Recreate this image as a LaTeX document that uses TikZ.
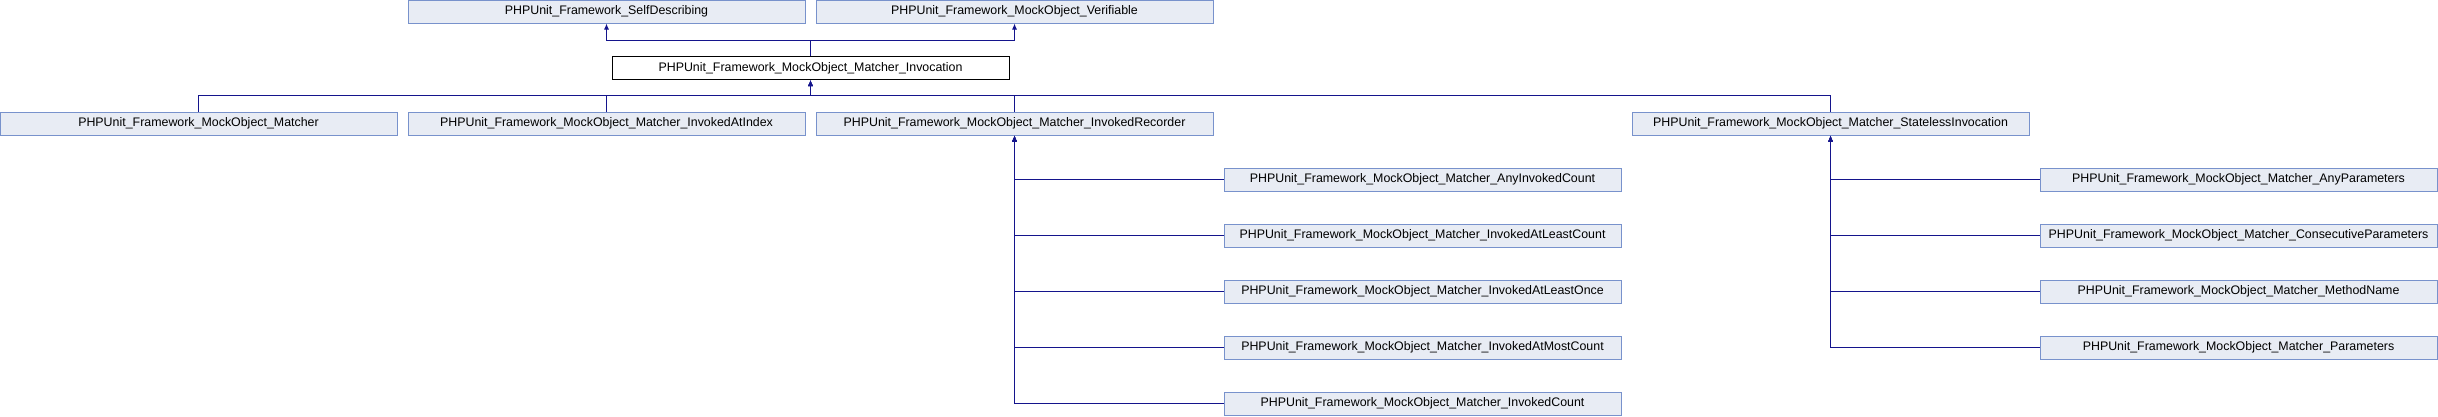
\documentclass[tikz,border=0pt]{standalone}
\usepackage{fontspec}
\setmainfont{Liberation Sans}
\usetikzlibrary{arrows.meta}
\definecolor{lien}{RGB}{20,20,140}
\definecolor{fond}{RGB}{232,236,244}
\definecolor{bord}{RGB}{120,146,204}
\tikzset{
  classe/.style={draw=bord, fill=fond, line width=1pt, minimum width=397pt,
    minimum height=23pt, inner sep=0pt, font=\fontsize{12.4}{14}\selectfont},
  herite/.style={draw=lien, line width=1pt, -{Latex[length=6pt,width=5pt]}}
}
\begin{document}
\begin{tikzpicture}[x=1pt, y=-1pt]
            \useasboundingbox (0,0) rectangle (2438,416);
            % Interfaces
            \node[classe] (selfdesc) at (606.5,11.5) {PHPUnit\_Framework\_SelfDescribing};
            \node[classe] (verif) at (1014.5,11.5) {PHPUnit\_Framework\_MockObject\_Verifiable};
            % Classe courante
            \node[classe, draw=black, fill=white] (invoc) at (810.5,68) {PHPUnit\_Framework\_MockObject\_Matcher\_Invocation};
            % Classes filles
            \node[classe] (matcher) at (198.5,123.5) {PHPUnit\_Framework\_MockObject\_Matcher};
            \node[classe] (atindex) at (606.5,123.5) {PHPUnit\_Framework\_MockObject\_Matcher\_InvokedAtIndex};
            \node[classe] (recorder) at (1014.5,123.5) {PHPUnit\_Framework\_MockObject\_Matcher\_InvokedRecorder};
            \node[classe] (stateless) at (1830.5,123.5) {PHPUnit\_Framework\_MockObject\_Matcher\_StatelessInvocation};
            % Sous-classes de InvokedRecorder
            \node[classe] (anycount) at (1422.5,179.5) {PHPUnit\_Framework\_MockObject\_Matcher\_AnyInvokedCount};
            \node[classe] (leastcount) at (1422.5,235.5) {PHPUnit\_Framework\_MockObject\_Matcher\_InvokedAtLeastCount};
            \node[classe] (leastonce) at (1422.5,291.5) {PHPUnit\_Framework\_MockObject\_Matcher\_InvokedAtLeastOnce};
            \node[classe] (mostcount) at (1422.5,347.5) {PHPUnit\_Framework\_MockObject\_Matcher\_InvokedAtMostCount};
            \node[classe] (count) at (1422.5,403.5) {PHPUnit\_Framework\_MockObject\_Matcher\_InvokedCount};
            % Sous-classes de StatelessInvocation
            \node[classe] (anyparams) at (2238.5,179.5) {PHPUnit\_Framework\_MockObject\_Matcher\_AnyParameters};
            \node[classe] (consec) at (2238.5,235.5) {PHPUnit\_Framework\_MockObject\_Matcher\_ConsecutiveParameters};
            \node[classe] (method) at (2238.5,291.5) {PHPUnit\_Framework\_MockObject\_Matcher\_MethodName};
            \node[classe] (params) at (2238.5,347.5) {PHPUnit\_Framework\_MockObject\_Matcher\_Parameters};
            % Heritage
            \draw[herite] (invoc.north) -- ++(0,-16) -| (selfdesc.south);
            \draw[herite] (invoc.north) -- ++(0,-16) -| (verif.south);
            \draw[herite] (matcher.north) -- ++(0,-16) -| (invoc.south);
            \draw[herite] (atindex.north) -- ++(0,-16) -| (invoc.south);
            \draw[herite] (recorder.north) -- ++(0,-16) -| (invoc.south);
            \draw[herite] (stateless.north) -- ++(0,-16) -| (invoc.south);
            \draw[herite] (anycount.west) -| (recorder.south);
            \draw[herite] (leastcount.west) -| (recorder.south);
            \draw[herite] (leastonce.west) -| (recorder.south);
            \draw[herite] (mostcount.west) -| (recorder.south);
            \draw[herite] (count.west) -| (recorder.south);
            \draw[herite] (anyparams.west) -| (stateless.south);
            \draw[herite] (consec.west) -| (stateless.south);
            \draw[herite] (method.west) -| (stateless.south);
            \draw[herite] (params.west) -| (stateless.south);
\end{tikzpicture}
\end{document}
